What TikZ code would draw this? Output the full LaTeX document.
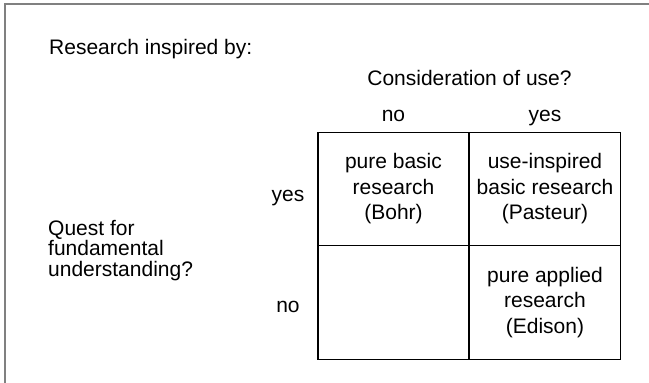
\documentclass[tikz,border=0pt]{standalone}
\usepackage{fontspec}
\setmainfont{Liberation Sans}
\begin{document}
\begin{tikzpicture}[x=1pt,y=-1pt,
  every node/.style={font=\fontsize{21}{25.5}\selectfont, inner sep=0pt, text=black},
  lbl/.style={anchor=base},
  cell/.style={draw=black, line width=1.1pt, minimum width=151pt, minimum height=113.5pt, align=center},
  frame/.style={draw=black!50, line width=1.6pt}]
\useasboundingbox (0,0) rectangle (649,383);
\clip (0,0) rectangle (649,383);
\fill[white] (0,0) rectangle (649,383);
\draw[frame] (5,4) rectangle (700,430);
% title texts
\node[lbl, anchor=base west] (title) at (49,54) {Research inspired by:};
\node[lbl] (use) at (469.5,85.5) {Consideration of use?};
\node[lbl] (colno) at (393.5,121) {no};
\node[lbl] (colyes) at (545,121) {yes};
\node[lbl] (rowyes) at (288,201.5) {yes};
\node[lbl] (rowno) at (288,312.5) {no};
\node[anchor=base west, align=left, font=\fontsize{21}{20.5}\selectfont] (quest) at (48,276) {Quest for\\fundamental\\understanding?};
% cells
\node[cell] (c11) at (393.5,189) {pure basic\\research\\(Bohr)};
\node[cell] (c12) at (545,189) {use-inspired\\basic research\\(Pasteur)};
\node[cell] (c21) at (393.5,302.5) {};
\node[cell] (c22) at (545,302.5) {pure applied\\research\\(Edison)};
\end{tikzpicture}
\end{document}
